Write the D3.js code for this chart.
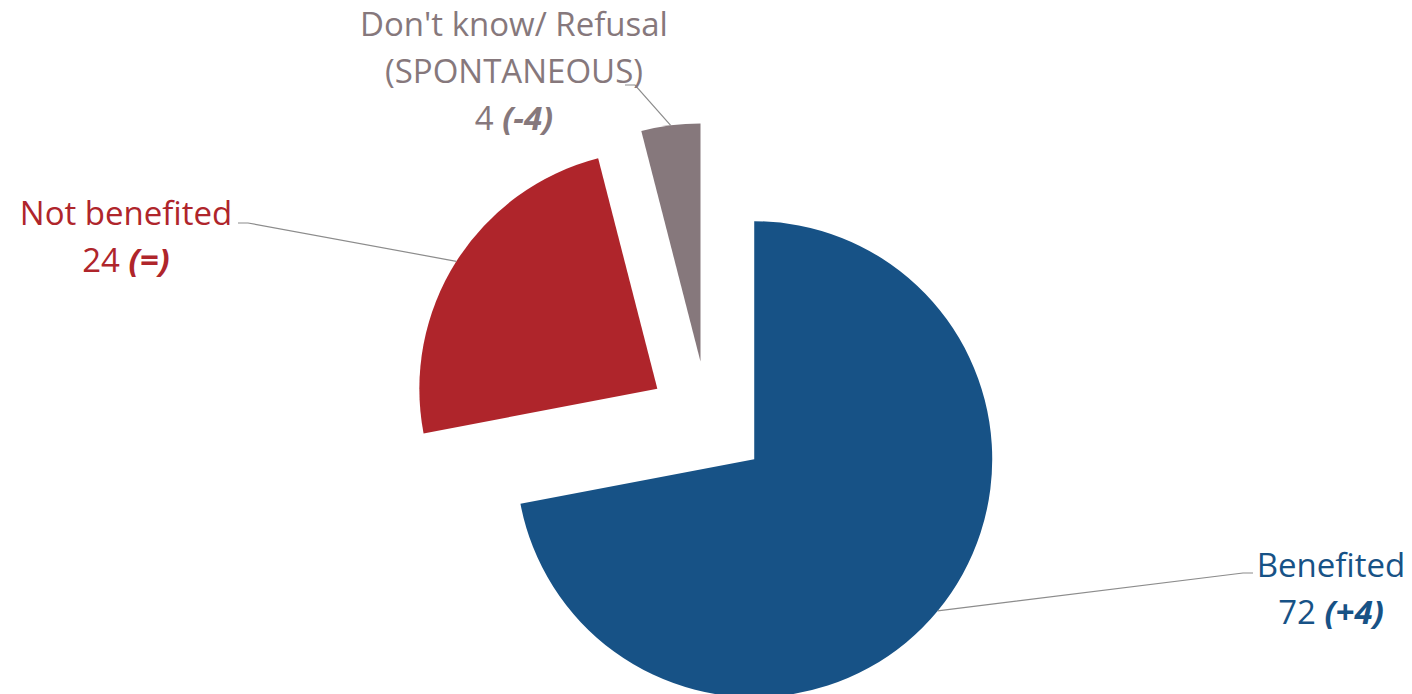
<!DOCTYPE html>
<html>
<head>
<meta charset="utf-8">
<script src="https://cdn.jsdelivr.net/npm/d3@7"></script>
<style>
  html, body { margin: 0; padding: 0; background: #ffffff; }
  svg { display: block; }
  text { font-family: "Open Sans", "Noto Sans", sans-serif; }
</style>
</head>
<body>
<svg id="chart" width="1412" height="694"></svg>
<script>
// ---- data ----
const categories = ["Benefited", "Not benefited", "Don't know/ Refusal\n(SPONTANEOUS)"];
const values = [72, 24, 4];
const changes = ["(+4)", "(=)", "(-4)"];
const colors = ["#175286", "#AF252B", "#86787C"];

// ---- layout ----
const cx = 708, cy = 421, R = 238, explode = 60;
const fontSize = 33, lineH = 47;
// label anchor (text centre x, first-line baseline y) and leader elbow
const labelPos = [
  { x: 1331, y: 577, elbowX: 1253, elbowY: 573, side: "right" },
  { x: 126,  y: 225, elbowX: 238,  elbowY: 223, side: "left" },
  { x: 514,  y: 36,  elbowX: 625,  elbowY: 85,  side: "left" }
];

const svg = d3.select("#chart");
const g = svg.append("g").attr("transform", `translate(${cx},${cy})`);

const pie = d3.pie().sort(null).value(d => d)(values);
const arc = d3.arc().innerRadius(0).outerRadius(R);

pie.forEach((d, i) => {
  const mid = (d.startAngle + d.endAngle) / 2;
  const ox = Math.sin(mid) * explode, oy = -Math.cos(mid) * explode;
  g.append("path")
    .attr("d", arc(d))
    .attr("transform", `translate(${ox},${oy})`)
    .attr("fill", colors[i]);

  // leader line from arc midpoint to label elbow
  const px = cx + ox + Math.sin(mid) * R;
  const py = cy + oy - Math.cos(mid) * R;
  const lp = labelPos[i];
  const elbow2 = lp.side === "right" ? lp.elbowX - 10 : lp.elbowX + 10;
  svg.append("polyline")
    .attr("points", `${px},${py} ${elbow2},${lp.elbowY} ${lp.elbowX},${lp.elbowY}`)
    .attr("fill", "none")
    .attr("stroke", "#8c8c8c")
    .attr("stroke-width", 1.2);

  // label text
  const lines = categories[i].split("\n");
  const t = svg.append("text")
    .attr("text-anchor", "middle")
    .attr("fill", colors[i])
    .attr("font-size", fontSize);
  lines.forEach((ln, k) => {
    t.append("tspan").attr("x", lp.x).attr("y", lp.y + k * lineH).text(ln);
  });
  const last = t.append("tspan").attr("x", lp.x).attr("y", lp.y + lines.length * lineH);
  last.append("tspan").text(values[i] + " ");
  last.append("tspan").attr("font-weight", "bold").attr("font-style", "italic").text(changes[i]);
});
</script>
</body>
</html>
